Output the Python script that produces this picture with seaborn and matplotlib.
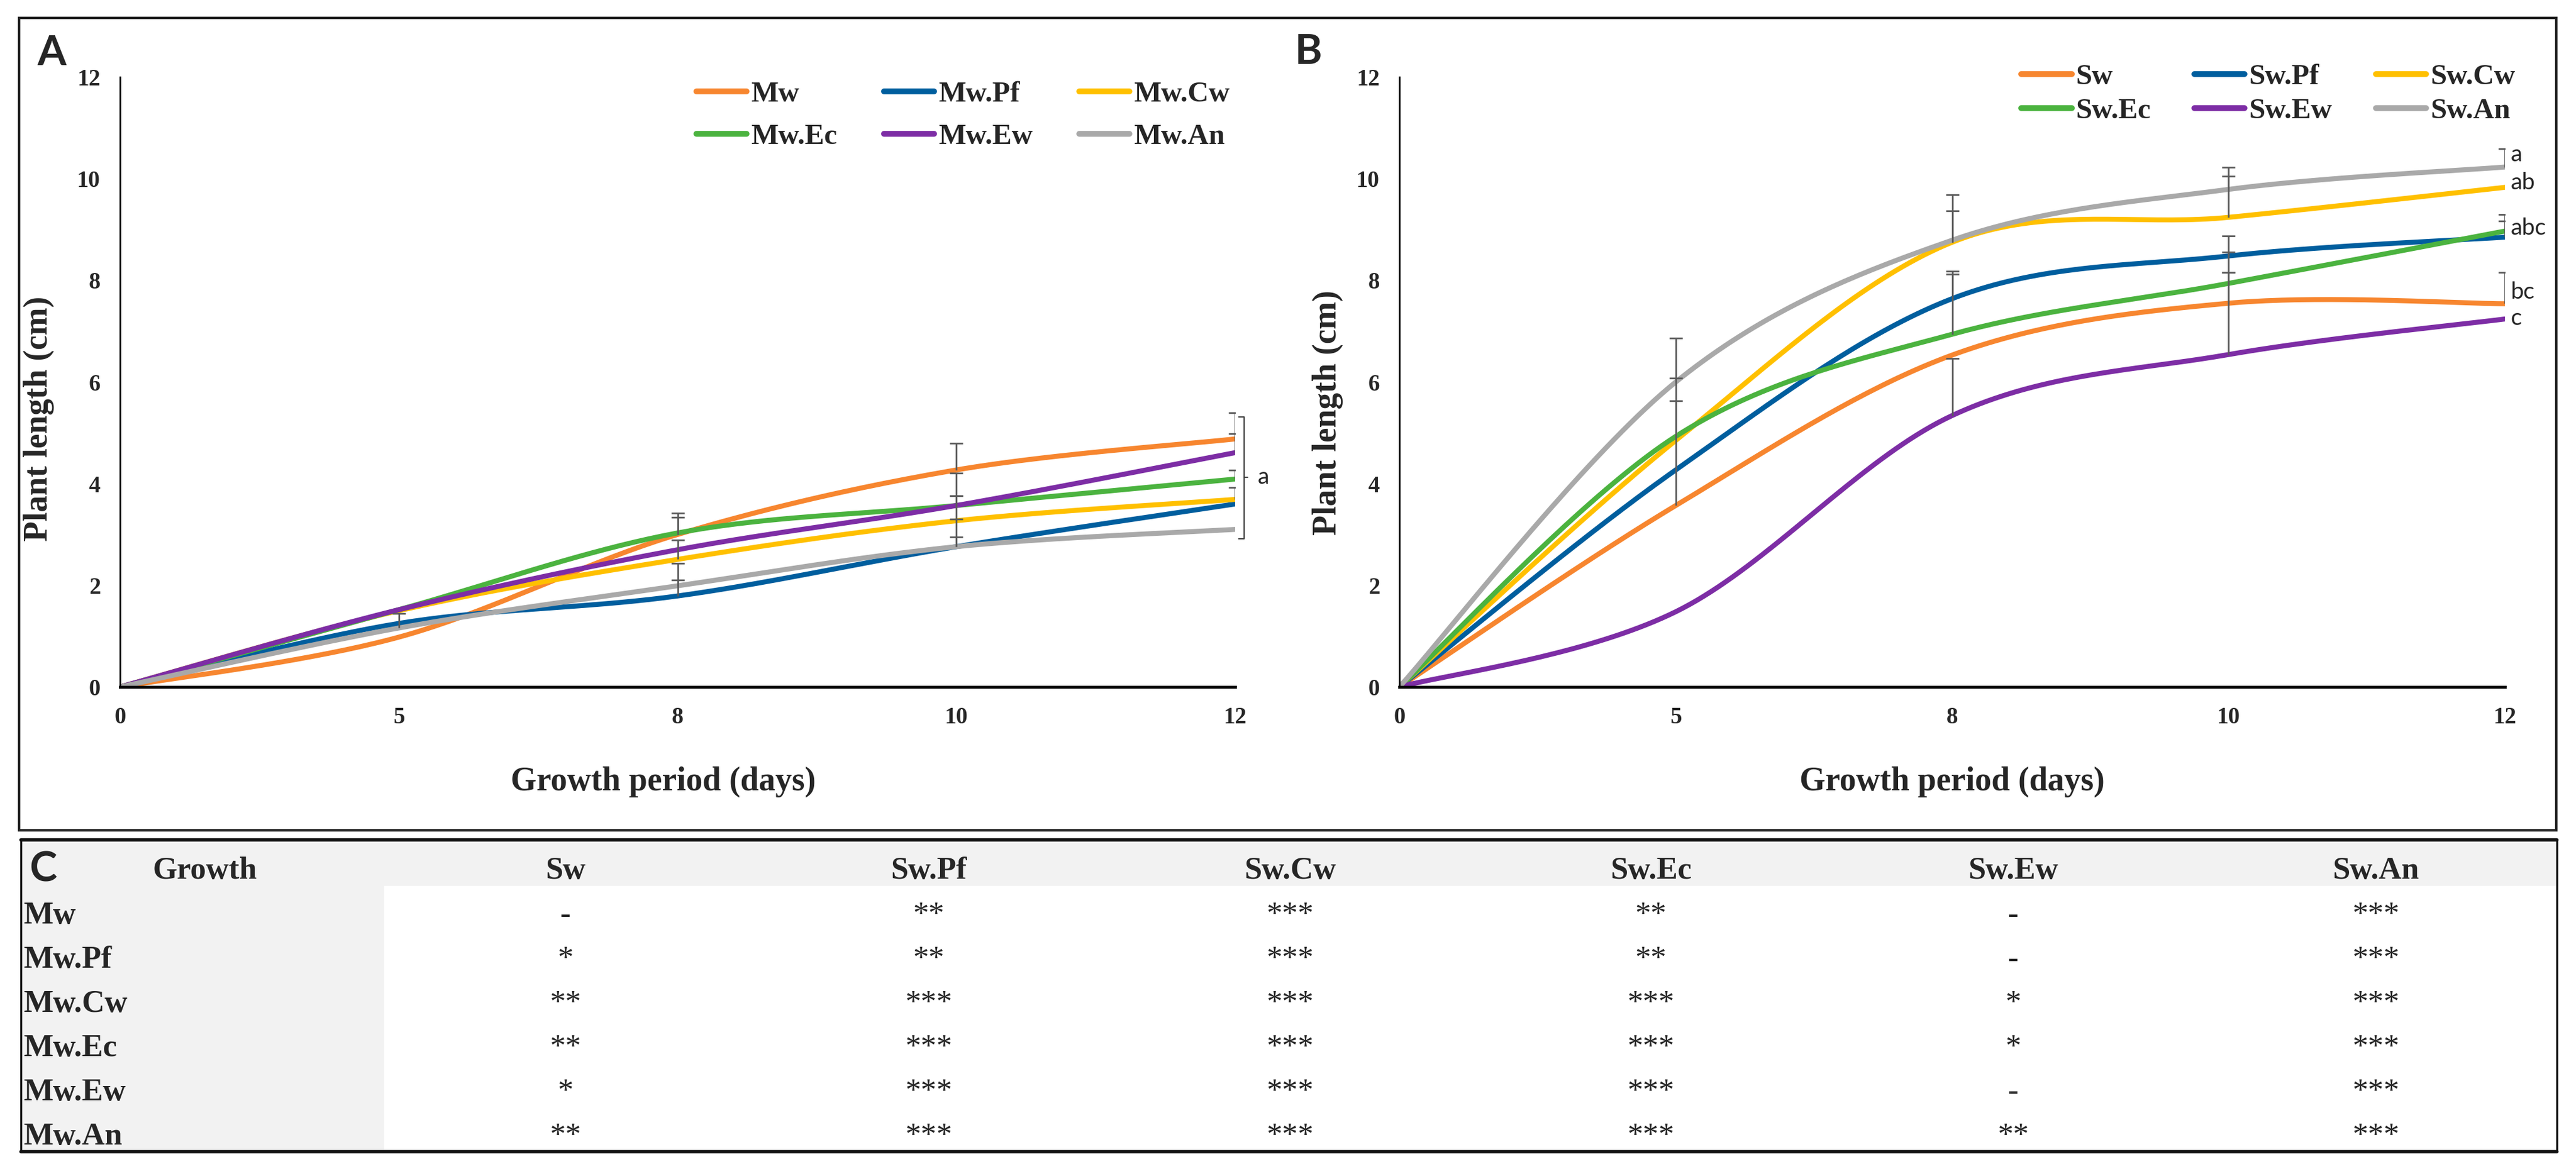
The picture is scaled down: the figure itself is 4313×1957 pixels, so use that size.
import numpy as np
import pandas as pd
import matplotlib
matplotlib.use("Agg")
import matplotlib.pyplot as plt
from matplotlib.patches import Rectangle
from matplotlib.lines import Line2D
import seaborn as sns

sns.set_style("white")
plt.rcParams["font.family"] = ["Liberation Serif", "DejaVu Serif"]

# ----- donnees -----
jours = ["0", "5", "8", "10", "12"]

series_A = ["Mw", "Mw.Pf", "Mw.Cw", "Mw.Ec", "Mw.Ew", "Mw.An"]
mw    = [0, 0.98, 3.00, 4.27, 4.88]
mw_pf = [0, 1.25, 1.79, 2.76, 3.60]
mw_cw = [0, 1.50, 2.51, 3.27, 3.69]
mw_ec = [0, 1.52, 3.03, 3.57, 4.09]
mw_ew = [0, 1.52, 2.70, 3.57, 4.61]
mw_an = [0, 1.16, 1.99, 2.76, 3.10]
# barres d'erreur vers le haut seulement (0 = pas de barre)
err_mw    = [0, 0, 0.42, 0.52, 0.52]
err_mw_pf = [0, 0, 0.64, 0.19, 0]
err_mw_cw = [0, 0, 0.38, 0.49, 0.23]
err_mw_ec = [0, 0, 0.31, 0.64, 0.18]
err_mw_ew = [0, 0, 0, 0.19, 0.37]
err_mw_an = [0, 0.28, 0.11, 0.54, 0]

series_B = ["Sw", "Sw.Pf", "Sw.Cw", "Sw.Ec", "Sw.Ew", "Sw.An"]
sw    = [0, 3.57, 6.53, 7.55, 7.54]
sw_pf = [0, 4.27, 7.64, 8.48, 8.85]
sw_cw = [0, 4.85, 8.75, 9.24, 9.83]
sw_ec = [0, 4.93, 6.94, 7.94, 8.97]
sw_ew = [0, 1.48, 5.34, 6.54, 7.24]
sw_an = [0, 6.00, 8.79, 9.79, 10.23]
err_sw    = [0, 2.06, 0, 0.61, 0.62]
err_sw_pf = [0, 0, 0.54, 0.39, 0.32]
err_sw_cw = [0, 1.23, 0.62, 0.81, 0]
err_sw_ec = [0, 0, 1.18, 0.62, 0.33]
err_sw_ew = [0, 0, 1.13, 1.62, 0]
err_sw_an = [0, 0.86, 0.89, 0.44, 0.36]

lettres_B = ["a", "ab", "abc", "bc", "c"]
y_lettres_B = [10.47, 9.92, 9.03, 7.77, 7.25]

# tableau C
lignes_C = ["Mw", "Mw.Pf", "Mw.Cw", "Mw.Ec", "Mw.Ew", "Mw.An"]
colonnes_C = ["Sw", "Sw.Pf", "Sw.Cw", "Sw.Ec", "Sw.Ew", "Sw.An"]
signif = [
    ["-", "**", "***", "**", "-", "***"],
    ["*", "**", "***", "**", "-", "***"],
    ["**", "***", "***", "***", "*", "***"],
    ["**", "***", "***", "***", "*", "***"],
    ["*", "***", "***", "***", "-", "***"],
    ["**", "***", "***", "***", "**", "***"],
]

couleurs = ["#F7862F", "#005E9E", "#FFC000", "#4BB33F", "#7D2DA5", "#A9A9A9"]


def lisse(ys, n=40):
    # courbe lissee facon Excel (Bezier / Catmull-Rom) entre les points
    pts = np.column_stack([np.arange(len(ys)), ys]).astype(float)
    P = np.vstack([pts[0], pts, pts[-1]])
    out = []
    t = np.linspace(0, 1, n)[:, None]
    for i in range(1, len(P) - 2):
        p0, p1, p2, p3 = P[i - 1], P[i], P[i + 1], P[i + 2]
        c1 = p1 + (p2 - p0) / 6
        c2 = p2 - (p3 - p1) / 6
        seg = (1 - t) ** 3 * p1 + 3 * (1 - t) ** 2 * t * c1 + 3 * (1 - t) * t ** 2 * c2 + t ** 3 * p2
        out.append(seg if i == 1 else seg[1:])
    return np.vstack(out)


def panneau(ax, noms, valeurs, erreurs, leg_xy, leg_spacing, colsp):
    frames = []
    for nom, v in zip(noms, valeurs):
        c = lisse(v)
        frames.append(pd.DataFrame({"x": c[:, 0], "y": c[:, 1], "serie": nom}))
    df = pd.concat(frames, ignore_index=True)
    sns.lineplot(data=df, x="x", y="y", hue="serie", hue_order=noms,
                 palette=dict(zip(noms, couleurs)), estimator=None, sort=False,
                 linewidth=6, legend=False, ax=ax)
    xs = np.arange(len(jours))
    for v, e in zip(valeurs, erreurs):
        e = np.array(e, dtype=float)
        v = np.array(v, dtype=float)
        m = e > 0
        ax.vlines(xs[m], v[m], v[m] + e[m], color="#5A5A5A", lw=2, zorder=5)
        ax.plot(xs[m], v[m] + e[m], ls="none", marker="_", ms=16, mew=2,
                color="#5A5A5A", zorder=5)
    ax.set_xlim(0, 4)
    ax.set_ylim(0, 12)
    ax.set_xticks(xs)
    ax.set_xticklabels(jours)
    ax.set_yticks(range(0, 13, 2))
    ax.set_facecolor("none")
    for s in ["top", "right"]:
        ax.spines[s].set_visible(False)
    ax.spines["left"].set_linewidth(2)
    ax.spines["bottom"].set_linewidth(3.5)
    ax.spines["left"].set_color("black")
    ax.spines["bottom"].set_color("black")
    ax.tick_params(axis="both", direction="out", length=8.5, width=2, color="black",
                   labelsize=28, pad=15)
    for lab in ax.get_xticklabels() + ax.get_yticklabels():
        lab.set_fontweight("bold")
    ax.set_xlabel("Growth period (days)", fontsize=40, fontweight="bold")
    ax.set_ylabel("Plant length (cm)", fontsize=40, fontweight="bold")
    # legende 3 colonnes, remplie ligne par ligne
    handles = [Line2D([], [], color=c, lw=7) for c in couleurs]
    ordre = [0, 3, 1, 4, 2, 5]
    ax.legend([handles[i] for i in ordre], [noms[i] for i in ordre], ncol=3,
              loc="center", bbox_to_anchor=leg_xy, frameon=False,
              prop={"family": "Liberation Serif", "weight": "bold", "size": 35},
              handlelength=1.73, handletextpad=0.15, columnspacing=colsp,
              labelspacing=leg_spacing, borderpad=0)


W, H = 4313, 1957
fig = plt.figure(figsize=(W / 100, H / 100), dpi=100)

# calque de fond en pixels : cadres + tableau
bg = fig.add_axes([0, 0, 1, 1])
bg.set_xlim(0, W)
bg.set_ylim(H, 0)
bg.axis("off")
bg.add_patch(Rectangle((32, 30), 4248, 1360, fill=False, lw=3, ec="#222222"))

axA = fig.add_axes([201 / W, 1 - 1150 / H, 1867 / W, 1021 / H])
axB = fig.add_axes([2343 / W, 1 - 1150 / H, 1851 / W, 1021 / H])

panneau(axA, series_A, [mw, mw_pf, mw_cw, mw_ec, mw_ew, mw_an],
        [err_mw, err_mw_pf, err_mw_cw, err_mw_ec, err_mw_ew, err_mw_an],
        (0.756, 0.937), 0.55, 1.6)
panneau(axB, series_B, [sw, sw_pf, sw_cw, sw_ec, sw_ew, sw_an],
        [err_sw, err_sw_pf, err_sw_cw, err_sw_ec, err_sw_ew, err_sw_an],
        (0.786, 0.972), 0.27, 1.5)

axA.xaxis.set_label_coords(0.487, -0.13)
axB.xaxis.set_label_coords(0.5, -0.13)
axA.yaxis.set_label_coords(-0.059, 0.44)
axB.yaxis.set_label_coords(-0.051, 0.45)

# accolade "a" du panneau A
kw = dict(color="#404040", lw=1.5, clip_on=False)
axA.plot([4.012, 4.032, 4.032, 4.012], [5.31, 5.31, 2.92, 2.92], **kw)
axA.plot([4.032, 4.045], [4.13, 4.13], **kw)
axA.text(4.08, 4.13, "a", fontsize=28, family="Lato", va="center", ha="left")

for lt, yl in zip(lettres_B, y_lettres_B):
    axB.text(4.02, yl, lt, fontsize=28, family="Lato", va="center", ha="left")

# lettres des panneaux
for lt, x, y in [("A", 62, 109), ("B", 2167, 107), ("C", 49, 1476)]:
    bg.text(x, y, lt, fontsize=50, family="Lato", fontweight="bold", va="baseline", ha="left")

# ----- tableau C -----
bg.add_patch(Rectangle((35, 1406), 4246, 77, fc="#F2F2F2", ec="none"))
bg.add_patch(Rectangle((35, 1483), 608, 445, fc="#F2F2F2", ec="none"))
bg.plot([35, 4281], [1406, 1406], color="#111111", lw=4)
bg.plot([35, 4281], [1928, 1928], color="#111111", lw=4)
bg.plot([35, 35], [1406, 1928], color="#111111", lw=2.5)
bg.plot([4281, 4281], [1406, 1928], color="#111111", lw=2.5)

x_cols = [947, 1555, 2160, 2764, 3371, 3978]
y_base = [1546, 1620, 1694, 1768, 1842, 1916]
bg.text(343, 1471, "Growth", fontsize=38, fontweight="bold", ha="center", va="baseline")
for nom, x in zip(colonnes_C, x_cols):
    bg.text(x, 1471, nom, fontsize=38, fontweight="bold", ha="center", va="baseline")
for i, (nom, y) in enumerate(zip(lignes_C, y_base)):
    bg.text(39, y, nom, fontsize=38, fontweight="bold", ha="left", va="baseline")
    for j, x in enumerate(x_cols):
        bg.text(x, y, signif[i][j], fontsize=38, ha="center", va="baseline")

fig.savefig("out.png", dpi=100)
